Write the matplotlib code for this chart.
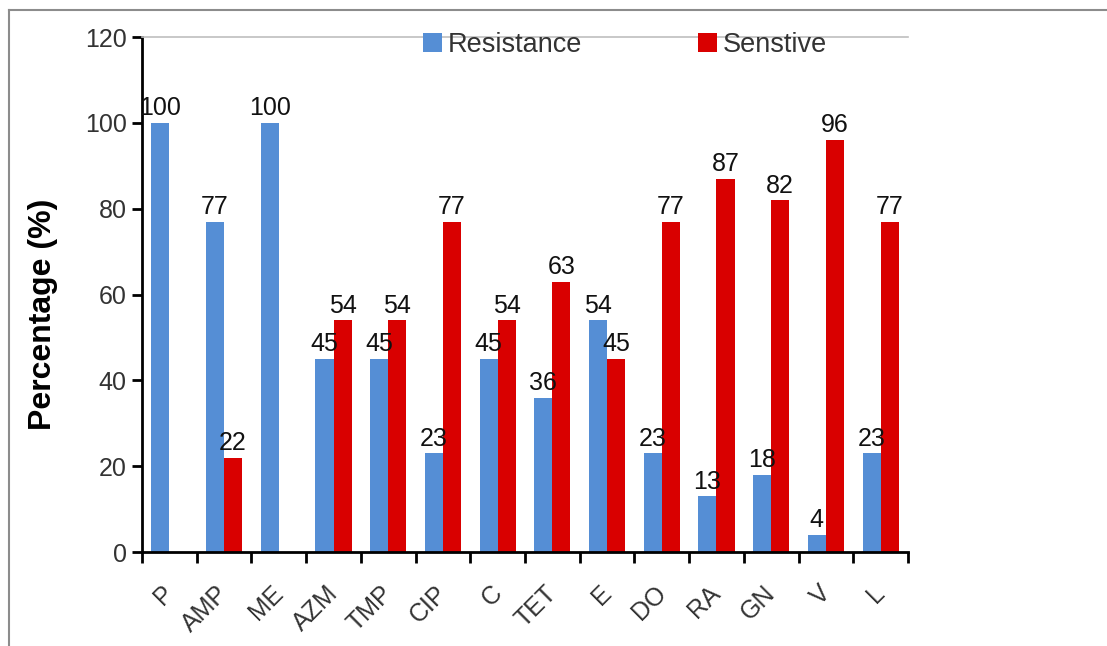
import numpy as np
import matplotlib
matplotlib.use('Agg')
import matplotlib.pyplot as plt
import matplotlib.transforms as mtransforms
from matplotlib.lines import Line2D

plt.rcParams['font.family'] = ['Liberation Sans', 'DejaVu Sans']

# data
drugs = ['P', 'AMP', 'ME', 'AZM', 'TMP', 'CIP', 'C', 'TET', 'E', 'DO', 'RA', 'GN', 'V', 'L']
resistance = [100, 77, 100, 45, 45, 23, 45, 36, 54, 23, 13, 18, 4, 23]
sensitive = [0, 22, 0, 54, 54, 77, 54, 63, 45, 77, 87, 82, 96, 77]
yticks = [0, 20, 40, 60, 80, 100, 120]

blue = '#558ED5'
red = '#D90000'
text_col = '#333333'

fig = plt.figure(figsize=(11.07, 6.46), dpi=100)
ax = fig.add_axes([0.1283, 0.1455, 0.6919, 0.7972])

x = np.arange(len(drugs))
w = 0.33
b1 = ax.bar(x - w / 2, resistance, w, color=blue, label='Resistance')
b2 = ax.bar(x + w / 2, sensitive, w, color=red, label='Senstive')

# value labels above non-zero bars
for bars, vals in [(b1, resistance), (b2, sensitive)]:
    for rect, v in zip(bars, vals):
        if v == 0:
            continue
        ax.text(rect.get_x() + rect.get_width() / 2, v + 0.6, str(v),
                ha='center', va='bottom', fontsize=18, color='#111111')

ax.set_xlim(-0.5, len(drugs) - 0.5)
ax.set_ylim(0, 120)
ax.set_yticks(yticks)

# labels at group centers, tick marks at group boundaries
ax.set_xticks(x)
ax.set_xticklabels(drugs, rotation=45, ha='right')
ax.set_xticks(np.arange(len(drugs) + 1) - 0.5, minor=True)
ax.tick_params(axis='x', which='major', length=0, pad=21, labelsize=18, labelcolor=text_col)
ax.tick_params(axis='x', which='minor', length=8, width=2, direction='out')
ax.tick_params(axis='y', length=7, width=2, pad=4, labelsize=18, labelcolor=text_col)

# nudge the rotated labels to the right so they end at the group centre
shift = mtransforms.ScaledTranslation(9 / 100, 0, fig.dpi_scale_trans)
for lbl in ax.get_xticklabels():
    lbl.set_transform(lbl.get_transform() + shift)

ax.set_ylabel('Percentage (%)', fontsize=23, fontweight='bold')
ax.yaxis.set_label_coords(-0.11, 0.462)

ax.spines['right'].set_visible(False)
ax.spines['top'].set_color('#BFBFBF')
ax.spines['top'].set_linewidth(1.2)
ax.spines['left'].set_linewidth(2)
ax.spines['bottom'].set_linewidth(2)

ax.legend(loc='center', bbox_to_anchor=(625 / 1107, 1 - 45 / 646),
          bbox_transform=fig.transFigure, ncol=2, frameon=False,
          fontsize=19.5, handlelength=0.7, handleheight=0.7, handletextpad=0.2,
          columnspacing=4.3, labelcolor=text_col)

# outer frame (left and top edges only)
fig.add_artist(Line2D([9 / 1107, 9 / 1107], [0, 1 - 10 / 646], color='#8C8C8C', lw=1.5,
                      transform=fig.transFigure))
fig.add_artist(Line2D([9 / 1107, 1], [1 - 10 / 646, 1 - 10 / 646], color='#8C8C8C', lw=1.5,
                      transform=fig.transFigure))

fig.savefig('out.png', dpi=100)
